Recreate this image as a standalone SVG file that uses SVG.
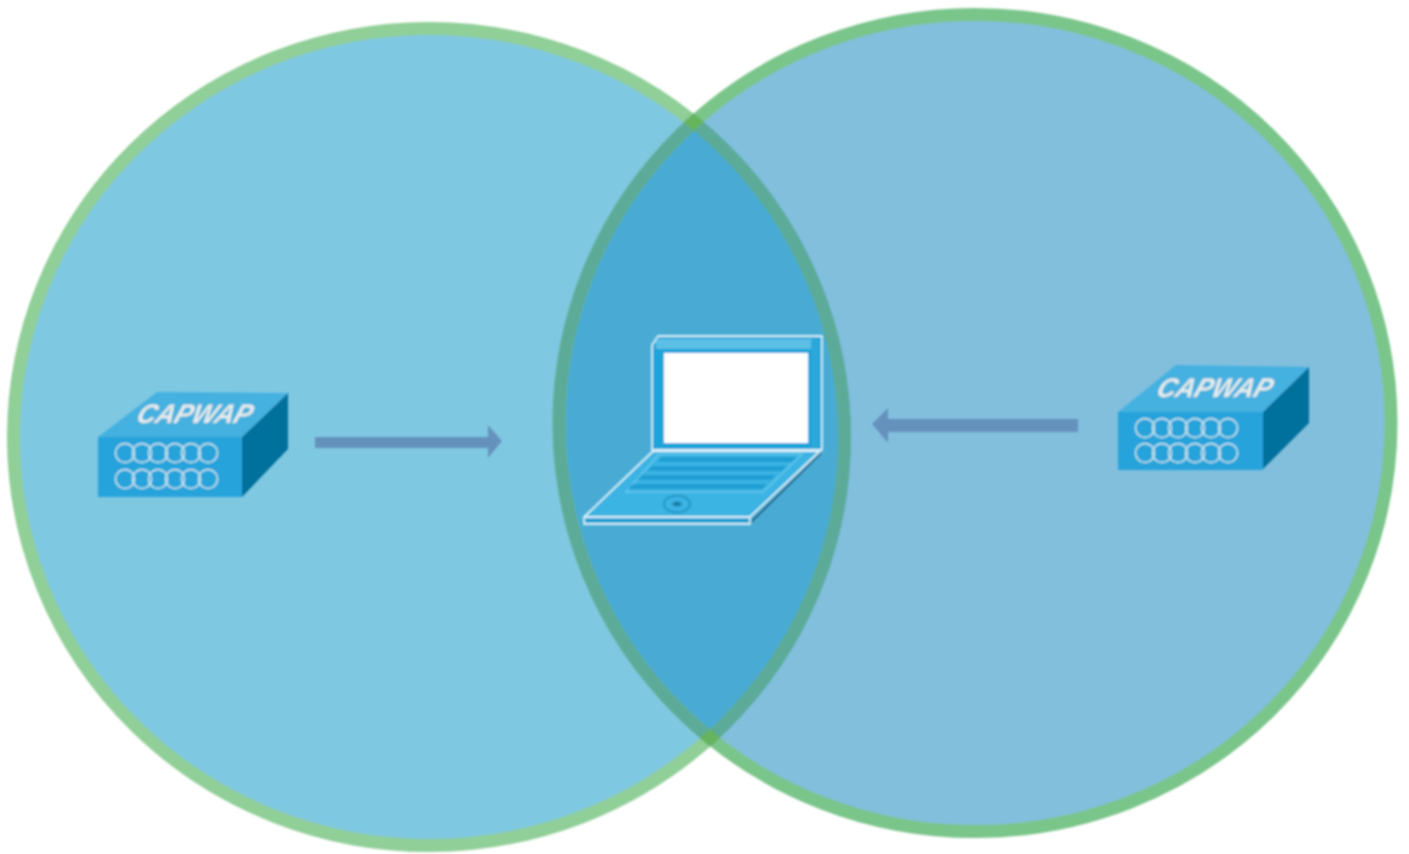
<svg xmlns="http://www.w3.org/2000/svg" width="1409" height="854" viewBox="0 0 1409 854">
<style>
.front{fill:#25a3db}
.top{fill:#45b1e0}
.side{fill:#00709c}
.port{fill:none;stroke:#d3e9ec;stroke-width:1.4}
.label{font-family:"Liberation Sans",Arial,sans-serif;font-weight:bold;font-style:italic;font-size:27px;fill:#e6eef0;stroke:#b9c9d2;stroke-width:.4}
.arrow{fill:#6592bd}
.lap{stroke:#d9f1f8;stroke-width:1.8;stroke-linejoin:round}
.key{fill:#1a9fd4}
</style>
<defs>
<filter id="soft" x="-5%" y="-5%" width="110%" height="110%"><feGaussianBlur stdDeviation="0.9"/></filter>
<filter id="soft2" x="-5%" y="-30%" width="110%" height="160%"><feGaussianBlur stdDeviation="1"/></filter>
<filter id="softc" x="-2%" y="-2%" width="104%" height="104%"><feGaussianBlur stdDeviation="1.2"/></filter>
<clipPath id="clipL"><ellipse cx="429" cy="437" rx="422" ry="415"/></clipPath>
<clipPath id="clipR"><ellipse cx="975" cy="423" rx="422.5" ry="415"/></clipPath>
<mask id="ringL" maskUnits="userSpaceOnUse" x="0" y="0" width="1409" height="854"><ellipse cx="429" cy="437" rx="415.5" ry="408.5" fill="none" stroke="#fff" stroke-width="13"/></mask>
</defs>
<rect width="1409" height="854" fill="#fff"/>
<g id="circles" filter="url(#softc)">
<g id="circle-left"><ellipse cx="429" cy="437" rx="415.5" ry="408.5" fill="#7fc8e1" stroke="#90cf98" stroke-width="13"/></g>
<g id="circle-right">
<ellipse cx="975" cy="423" rx="416" ry="408.5" fill="#82bfdd"/>
<ellipse cx="975" cy="423" rx="416" ry="408.5" fill="#49abd4" clip-path="url(#clipL)"/>
<ellipse cx="975" cy="423" rx="416" ry="408.5" fill="none" stroke="#7ac58a" stroke-width="13"/>
</g>
<g id="overlap-edges">
<g clip-path="url(#clipL)"><ellipse cx="975" cy="423" rx="416" ry="408.5" fill="none" stroke="#5bab98" stroke-width="13"/></g>
<g clip-path="url(#clipR)"><ellipse cx="429" cy="437" rx="415.5" ry="408.5" fill="none" stroke="#5bab98" stroke-width="13"/></g>
<g mask="url(#ringL)"><ellipse cx="975" cy="423" rx="416" ry="408.5" fill="none" stroke="#66b45c" stroke-width="13"/></g>
</g>
</g>

<g id="ap-left" filter="url(#soft)">
<polygon class="top" points="98,437 157,392 288,393 242,437"/>
<polygon class="side" points="242,437 288,393 288,449 242,497"/>
<rect class="front" x="98" y="437" width="144" height="60"/>
<g class="port">
<circle cx="125" cy="453" r="9.5"/><circle cx="142" cy="453" r="9.5"/><circle cx="158" cy="453" r="9.5"/><circle cx="175" cy="453" r="9.5"/><circle cx="191" cy="453" r="9.5"/><circle cx="208" cy="453" r="9.5"/>
<circle cx="125" cy="479" r="9.5"/><circle cx="142" cy="479" r="9.5"/><circle cx="158" cy="479" r="9.5"/><circle cx="175" cy="479" r="9.5"/><circle cx="191" cy="479" r="9.5"/><circle cx="208" cy="479" r="9.5"/>
</g>
<text class="label" transform="translate(135,423) skewX(-20)" textLength="114" lengthAdjust="spacingAndGlyphs">CAPWAP</text>
</g>

<g id="ap-right" filter="url(#soft)">
<polygon class="top" points="1118,412 1176,365 1309,367 1263,412"/>
<polygon class="side" points="1263,412 1309,367 1309,423 1263,469"/>
<rect class="front" x="1118" y="412" width="145" height="58"/>
<g class="port">
<circle cx="1145" cy="428" r="9.5"/><circle cx="1162" cy="428" r="9.5"/><circle cx="1178" cy="428" r="9.5"/><circle cx="1195" cy="428" r="9.5"/><circle cx="1211" cy="428" r="9.5"/><circle cx="1228" cy="428" r="9.5"/>
<circle cx="1145" cy="453" r="9.5"/><circle cx="1162" cy="453" r="9.5"/><circle cx="1178" cy="453" r="9.5"/><circle cx="1195" cy="453" r="9.5"/><circle cx="1211" cy="453" r="9.5"/><circle cx="1228" cy="453" r="9.5"/>
</g>
<text class="label" transform="translate(1155,397) skewX(-20)" textLength="114" lengthAdjust="spacingAndGlyphs">CAPWAP</text>
</g>

<g id="laptop" filter="url(#soft)">
<polygon class="lap" fill="#1ba3d9" points="652,345 658,336 822,336 822,450 652,450"/>
<polygon fill="#5cc0e6" points="656,339 817,339 811,349 656,349"/>
<rect x="664" y="353" width="144" height="90" fill="#fff"/>
<polygon fill="#2aa8da" points="811,340 819,338 819,449 811,449"/>
<polygon class="lap" fill="#3ab3e3" points="653,451 820,451 750,517 584,517"/>
<polygon class="lap" fill="#22a0d5" points="584,517 750,517 750,524 584,524"/>
<path d="M821,453L751,522" fill="none" stroke="#1c4f74" stroke-width="1.5"/>
<polygon points="659,454 802,454 763,492 626,492" fill="#3ab3e3" stroke="#66c8ec" stroke-width="1.5"/>
<polygon class="key" points="662,457 797,457 792,462 657,462"/>
<polygon class="key" points="652,466 787,466 782,471 647,471"/>
<polygon class="key" points="642,475 776,475 771,480 637,480"/>
<polygon class="key" points="633,484 767,484 762,489 628,489"/>
<ellipse cx="677" cy="504" rx="13" ry="8.5" fill="none" stroke="#2397c6" stroke-width="2"/>
<ellipse cx="677" cy="504" rx="4.5" ry="2.5" fill="#1b7fa9"/>
</g>

<g id="connectors" filter="url(#soft2)">
<path class="arrow" d="M315,437H488V425L502,441L488,458V448H315Z"/>
<path class="arrow" d="M1078,419H888V408L872,424L888,443V432H1078Z"/>
</g>
</svg>
